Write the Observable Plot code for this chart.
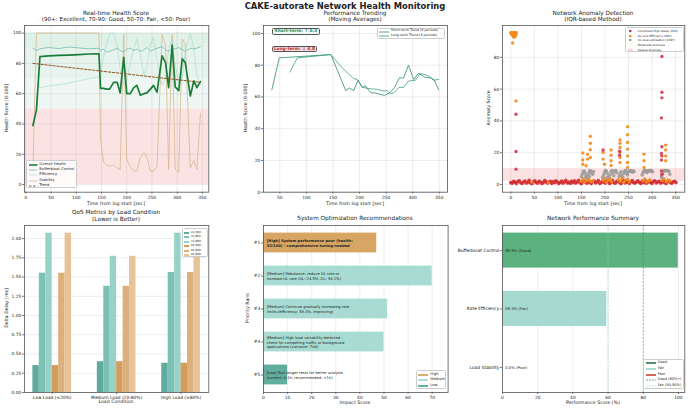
<!DOCTYPE html>
<html><head><meta charset="utf-8">
<script src="https://cdn.jsdelivr.net/npm/d3@7"></script>
<script src="https://cdn.jsdelivr.net/npm/@observablehq/plot@0.6"></script>
<style>
html,body{margin:0;padding:0;background:#fff;}
#root{position:relative;width:690px;height:409px;overflow:hidden;font-family:'DejaVu Sans',sans-serif;color:#222;}
.t{position:absolute;white-space:nowrap;transform:translate(-50%,-50%);line-height:1;}
.lg{position:absolute;background:rgba(255,255,255,0.82);border:0.5px solid #ccc;border-radius:1.5px;box-sizing:border-box;}
.lg .it{position:absolute;white-space:nowrap;line-height:1;transform:translateY(-50%);color:#222;}
.box{position:absolute;box-sizing:border-box;border:0.6px solid #555;border-radius:1.5px;font-weight:bold;white-space:nowrap;display:flex;align-items:center;justify-content:center;line-height:1;}
</style></head><body><div id="root"></div>
<script>
// ---------------- DATA ----------------
// Panel 1: real-time health score
const healthTime = [14,21,28,45,65,85,105,125,145,148,154,160,166,174,181,187,194,200,207,214,220,227,234,240,247,253,260,270,277,283,290,296,303,310,316,326,333,339,346];
const overallHealth = [39,49,84.5,85,85.3,85.5,85.8,86.2,86.3, 63.5,63.5,63,63,67.5,67.5,60.5,84,60,60, 64,65.5,59,60,60.5,63,65.5,61, 85,80.5,64,92,64.5,62,83,80.5, 58.5,68.5,64,68];
const bufferbloatScore = [90,88.5,89.7,90.5,89.8,90.8,90.2,89.6,90, 88.5,89.5,87.5,88,89,90,88.5,87.5,89.5,90, 88.5,89.5,88,89,90.5,88,89,90, 91,89,88,90,89.5,90.5,89,88, 90,89.5,90,91];
const efficiencyScore = [null,null,64,65,66,67,68.5,70,71, 74,84,93,99.5,100,92,76,66,69,80, 90,96,86,72,78,93,97,82, 66,71,89,96,79,67,70,88, 100,90,72,66];
const stabilityScore = [8,100,100,100,100,100,100,100,100, 30,15,13,12,13,11,10,99,17,12, 9,9,18,21,18,9,9,12, 99,92,10,99,10,8,96,93, 11,16,10,47];
const trendTime = [14,346];
const trendValue = [80,67.5];
const healthBands = [[0,50],[50,70],[70,90],[90,100]];

// Panel 2: moving averages
const shortTime = [35,49,146,174,181,189,197,205,211,221,230,247,256,266,275,283,292,302,311,322,333,340,349];
const shortValue = [64.5,84.6,86.7,64,65.6,64,70.5,66,67,62.7,62.4,61,62.4,66,72,72,80,71,75,72.5,72,71,64.5];
const longTime = [69,83,146,168,189,196,205,224,233,246,252,258,264,274,283,292,305,314,324,333,339,349];
const longValue = [75.7,84.6,86.7,78,71.5,71,66,65,64.8,63.7,64,62,62.4,66,66,70,70.5,74.7,74,72.6,70.5,71];

// Panel 3: anomalies
const bandStep = 3; // regular sampling of the delay band
const delayBand = [1.2,0.8,2.1,1.5,0.6,1.9,2.4,1.1,0.7,1.6, 2.2,0.9,1.4,2.6,1.0,0.5,1.8,2.3,1.3,0.8, 2.0,1.6,0.6,1.2,2.5,1.7,0.9,1.4,2.1,0.7, 1.9,1.1,2.4,1.5,0.6,1.3,2.2,0.8,1.7,2.6, 1.0,1.5,0.7,2.0,1.2,2.3,0.9,1.6,2.7,1.1, 0.5,1.8,2.1,1.4,0.8,2.4,1.3,0.6,1.9,2.2, 1.0,1.6,2.5,0.7,1.2,2.0,1.5,0.9,2.3,1.7, 0.6,1.4,2.6,1.1,0.8,1.9,2.2,1.3,0.5,1.7, 2.4,1.0,1.5,2.1,0.7,1.8,2.5,1.2,0.9,1.6, 2.3,1.4,0.6,2.0,1.1,2.7,0.8,1.5,2.2,1.3, 0.7,1.9,2.4,1.0,1.6,2.1,0.9,1.4,2.6,1.2, 0.6,1.8,2.3,1.1,0.8,1.7,2.0,1.3];
const delayHighT = [11,11,11,321,321,321,320,321,320,321,320,320,321,196,231,231];
const delayHighV = [44.2,20.8,9.7,80.5,58,54.5,41.9,23.8,19.6,18,15.4,8.6,6.5,21.7,21,18.5];
const effLowT = [0,2,4,6,8,10,12,1,3,5,7,9,11,4,6,8,10,6,8,4,11, 153,153,153,163,163,160,169,169,169,169,196,196,199,213,213,213,213,232,232,232,232,232,232,248,248,248,248,248,248,248,283,283,283,329,329,329,329, 45,80,150,153,157,162,166,170,174,196,199,203,207,211,214,228,232,236,240,244,248,252,281,284,288,292,296,322,326,330,334,338];
const effLowV = [95.5,95.5,95.5,95.5,95.5,95.5,95.5,94.6,94.6,94.6,94.6,94.6,94.6,93.7,93.7,93.7,93.7,92.8,92.8,89,52.6, 19.8,15.4,12.8,19,16,11.8,30.3,26,21.9,17,20.2,16,12.8,21.7,18.5,15,12,28,25.9,23.3,20.2,17,13.9,36.4,31.3,26.5,22.3,18,13.9,10.7,19.1,15,10.7,24.8,21.7,18,15, 1.5,1.2,2,3.5,1.5,2.5,3,1.8,2.2,2.5,3.8,1.5,2.8,3.5,1.8,3,2,3.8,1.5,2.8,3.2,1.8,2.5,3.5,1.6,2.2,3,2.5,3.6,1.8,2.8,2.2];
const ulOverT = [150,152,154,156,158,160,162,164,166,168,170,172,174,176,158,167, 195,197,199,201,203,205,207,209,211,213,215,217,219,221,223,225,204, 230,232,234,236,238,240,242,244,246,248,250,252,254,256,258,260,262, 279,281,283,285,287,289,291,293,295,297,299,301, 320,322,324,326,328,330,332,334,336,338,321];
const ulOverV = [5,6.5,8,8.5,7,5.5,4.5,6,7.5,8.8,8.5,7,6.5,8.2,4.2,5, 4.5,6,7.5,8.8,8.5,7,5,4.2,6,8,8.8,7.2,5.5,8.5,8.8,7.5,4.3, 5,6.5,8,5.5,4.5,7,8.5,8.8,7,6,8,8.7,8.8,8.5,7.8,8.5,8.2, 6,7.5,8.5,8.8,8.5,7.5,8.7,8.8,8.4,8.8,8.6,8, 5,6.5,8,8.8,8.8,8.5,8.8,8.7,8.2,6.5,4.2];
const severeBand = [2,10];

// Panel 4: QoS
const loadConditions = ["Low Load (≤20%)","Medium Load (20-80%)","High Load (≥80%)"];
const qosMetrics = ["UL 50th","UL 95th","UL 99th","DL 50th","DL 95th","DL 99th"];
const ul50 = [0.35,0.40,0.38], ul95 = [1.55,1.38,1.56], ul99 = [2.07,1.77,2.07];
const dl50 = [0.35,0.40,0.38], dl95 = [1.55,1.38,1.56], dl99 = [2.07,1.77,2.07];

// Panel 5: recommendations
const recRanks = [1,2,3,4,5];
const recImpact = [47,70,51.5,50,10];
const recPriority = ["High","Medium","Medium","Medium","Low"];
const recText = [
  "[High] System performance poor (health:\n53/100) - comprehensive tuning needed",
  "[Medium] Rebalance: reduce DL rate or\nincrease UL rate (UL: 24.5%, DL: 94.1%)",
  "[Medium] Continue gradually increasing rate\nlimits (efficiency: 59.3%, improving)",
  "[Medium] High load variability detected -\ncheck for competing traffic or background\napplications (variance: 706)",
  "[Low] Run longer tests for better analysis\n(current: 0.1h, recommended: >1h)"
];

// Panel 6: summary
const perfCategories = ["Bufferbloat Control","Rate Efficiency","Load Stability"];
const perfScores = [99.9,59.3,0.0];
const perfStatus = ["Good","Fair","Poor"];

// ---------------- STYLES ----------------
const C = {
  overall:"#1b7d3a", bb:"#5fb5a5", eff:"#a9dcd3", stab:"#d8b88d", trend:"#8b5a2b",
  bands:["#fbe3e3","#eef7f4","#e7f4ed","#e0f1e7"],
  short:"#2f8c69", long:"#52ad8e",
  red:"#d42a30", orange:"#f28c1c", gray:"#9a9a9a", severe:"#fbe1e1",
  qos:["#5fab9d","#7cc1b5","#98d1c8","#d29d5c","#ddb07b","#e7c398"],
  prio:{High:"#d8a664",Medium:"#a8dcd3",Low:"#61ae9f"},
  prioLeg:{High:"#d09a52",Medium:"#a2d8cf",Low:"#3f9b89"},
  status:{Good:"#5cb27e",Fair:"#a6dad1",Poor:"#c0392b"}
};

// ---------------- HELPERS ----------------
const root = document.getElementById('root');
const M = 45;
const baseStyle = "font-family:'DejaVu Sans',sans-serif;font-size:4.4px;overflow:visible;background:transparent;color:#222";
function place(spec, fx, fy, fw, fh) {
  const svg = Plot.plot({...spec, width: fw + 2*M, height: fh + 2*M,
    marginTop: M, marginBottom: M, marginLeft: M, marginRight: M, style: baseStyle});
  svg.style.position = 'absolute';
  svg.style.left = (fx - M) + 'px';
  svg.style.top = (fy - M) + 'px';
  root.appendChild(svg);
}
const axX = (ticks, tickFormat) => Plot.axisX({ticks, tickFormat, tickSize: 2, tickPadding: 1.2, strokeWidth: 0.6, label: null});
const axY = (ticks, tickFormat) => Plot.axisY({ticks, tickFormat, tickSize: 2, tickPadding: 1.2, strokeWidth: 0.6, label: null});
const gX = ticks => Plot.gridX({ticks, stroke:"#999", strokeOpacity:0.35, strokeWidth:0.5});
const gY = ticks => Plot.gridY({ticks, stroke:"#999", strokeOpacity:0.35, strokeWidth:0.5});
const frame = () => Plot.frame({stroke:"#555", strokeWidth:0.8});

function label(x, y, s, o = {}) {
  const d = document.createElement('div');
  d.className = 't';
  d.textContent = s;
  d.style.left = x + 'px'; d.style.top = y + 'px';
  d.style.fontSize = (o.size || 4.7) + 'px';
  if (o.weight) d.style.fontWeight = o.weight;
  if (o.color) d.style.color = o.color;
  if (o.rotate) d.style.transform = 'translate(-50%,-50%) rotate(-90deg)';
  root.appendChild(d);
}
const NS = 'http://www.w3.org/2000/svg';
function legend(box, items, o) {
  const [l, t, w, h] = box;
  const div = document.createElement('div'); div.className = 'lg';
  Object.assign(div.style, {left:l+'px', top:t+'px', width:w+'px', height:h+'px'});
  items.forEach((it, i) => {
    const cy = o.rows[i] - t;
    const sw = o.sx[1] - o.sx[0];
    const s = document.createElementNS(NS, 'svg');
    s.setAttribute('width', sw); s.setAttribute('height', 6);
    Object.assign(s.style, {position:'absolute', left:(o.sx[0]-l)+'px', top:(cy-3)+'px', overflow:'visible'});
    let el;
    if (it.kind === 'line') {
      el = document.createElementNS(NS, 'line');
      el.setAttribute('x1', 0); el.setAttribute('x2', sw); el.setAttribute('y1', 3); el.setAttribute('y2', 3);
      el.setAttribute('stroke', it.color); el.setAttribute('stroke-width', it.w || 0.8);
      if (it.dash) el.setAttribute('stroke-dasharray', it.dash);
    } else if (it.kind === 'patch') {
      const ph = it.h || 2.2;
      el = document.createElementNS(NS, 'rect');
      el.setAttribute('x', 0); el.setAttribute('y', 3 - ph/2); el.setAttribute('width', sw); el.setAttribute('height', ph);
      el.setAttribute('fill', it.color);
      if (it.stroke) { el.setAttribute('stroke', it.stroke); el.setAttribute('stroke-width', 0.3); }
    } else {
      el = document.createElementNS(NS, 'circle');
      el.setAttribute('cx', sw/2); el.setAttribute('cy', 3); el.setAttribute('r', it.r || 1.2);
      el.setAttribute('fill', it.color);
    }
    s.appendChild(el); div.appendChild(s);
    const tx = document.createElement('div'); tx.className = 'it'; tx.textContent = it.text;
    tx.style.left = (o.tx - l) + 'px'; tx.style.top = cy + 'px'; tx.style.fontSize = o.fs + 'px';
    div.appendChild(tx);
  });
  root.appendChild(div);
}

// ---------------- PANEL 1 ----------------
const h1 = healthTime.map((t, i) => ({t, ov: overallHealth[i], bb: bufferbloatScore[i], eff: efficiencyScore[i], st: stabilityScore[i]}));
const trend1 = trendTime.map((t, i) => ({t, v: trendValue[i]}));
const bands1 = healthBands.map(([lo, hi], i) => ({lo, hi, c: C.bands[i]}));
const t350 = [0,50,100,150,200,250,300,350];
place({
  x:{domain:[-2.6,362.6]}, y:{domain:[-5,105]}, color:{type:"identity"},
  marks:[
    Plot.rect(bands1, {y1:"lo", y2:"hi", fill:"c"}),
    gX(t350), gY([0,20,40,60,80,100]),
    Plot.line(h1, {x:"t", y:"st", stroke:C.stab, strokeWidth:0.8}),
    Plot.line(h1, {x:"t", y:"eff", stroke:C.eff, strokeWidth:0.7}),
    Plot.line(h1, {x:"t", y:"bb", stroke:C.bb, strokeWidth:0.7}),
    Plot.line(h1, {x:"t", y:"ov", stroke:C.overall, strokeWidth:1.7}),
    Plot.line(trend1, {x:"t", y:"v", stroke:C.trend, strokeWidth:1, strokeDasharray:"2.5,1.5"}),
    axX(t350), axY([0,20,40,60,80,100]), frame()
  ]
}, 24, 25, 184.3, 166.7);

// ---------------- PANEL 2 ----------------
const s2 = shortTime.map((t, i) => ({t, v: shortValue[i]}));
const l2 = longTime.map((t, i) => ({t, v: longValue[i]}));
place({
  x:{domain:[19.3,365.5]}, y:{domain:[0,105]},
  marks:[
    gX([50,100,150,200,250,300,350]), gY([0,20,40,60,80,100]),
    Plot.line(l2, {x:"t", y:"v", stroke:C.long, strokeWidth:1, strokeOpacity:0.9}),
    Plot.line(s2, {x:"t", y:"v", stroke:C.short, strokeWidth:0.8}),
    axX([50,100,150,200,250,300,350]), axY([0,20,40,60,80,100]), frame()
  ]
}, 263.3, 25, 184, 166.7);

// ---------------- PANEL 3 ----------------
const band3 = delayBand.map((v, i) => ({t: i * bandStep, v}));
const high3 = delayHighT.map((t, i) => ({t, v: delayHighV[i]}));
const eff3 = effLowT.map((t, i) => ({t, v: effLowV[i]}));
const ul3 = ulOverT.map((t, i) => ({t, v: ulOverV[i]}));
place({
  x:{domain:[-17.6,369.6]}, y:{domain:[-4.8,100]},
  marks:[
    Plot.rect([{lo: severeBand[0], hi: severeBand[1]}], {y1:"lo", y2:"hi", fill:C.severe}),
    gX(t350), gY([0,20,40,60,80]),
    Plot.dot(band3, {x:"t", y:"v", r:1.8, fill:C.red, fillOpacity:0.9}),
    Plot.dot(ul3, {x:"t", y:"v", r:1.8, fill:C.gray, fillOpacity:0.85}),
    Plot.dot(eff3, {x:"t", y:"v", r:1.7, fill:C.orange, fillOpacity:0.9}),
    Plot.dot(high3, {x:"t", y:"v", r:1.7, fill:"#c93044", fillOpacity:0.85}),
    axX(t350), axY([0,20,40,60,80]), frame()
  ]
}, 501.7, 25, 182.3, 166.7);

// ---------------- PANEL 4 ----------------
const qosSeries = [ul50, ul95, ul99, dl50, dl95, dl99];
const qos = [];
loadConditions.forEach((_, g) => qosSeries.forEach((arr, j) => {
  qos.push({x1: g - 0.3 + j * 0.1, x2: g - 0.2 + j * 0.1, v: arr[g], c: C.qos[j]});
}));
place({
  x:{domain:[-0.43,2.43]}, y:{domain:[0,2.17]}, color:{type:"identity"},
  marks:[
    gY([0,0.25,0.5,0.75,1,1.25,1.5,1.75,2]),
    Plot.rect(qos, {x1:"x1", x2:"x2", y1:0, y2:"v", fill:"c"}),
    axX([0,1,2], i => loadConditions[i]),
    axY([0,0.25,0.5,0.75,1,1.25,1.5,1.75,2], d3.format(".2f")), frame()
  ]
}, 24, 224.7, 184.3, 167);

// ---------------- PANEL 5 ----------------
const recs = recRanks.map((rank, i) => ({rank, impact: recImpact[i], prio: recPriority[i], text: recText[i], c: C.prio[recPriority[i]]}));
place({
  x:{domain:[0,76.6]}, y:{domain:[0.47,5.53], reverse:true}, color:{type:"identity"},
  marks:[
    gX([0,10,20,30,40,50,60,70]),
    Plot.rect(recs, {x1:0, x2:"impact", y1: d => d.rank - 0.3, y2: d => d.rank + 0.3, fill:"c"}),
    Plot.text(recs.filter(d => d.prio === "High"), {x:1.3, y:"rank", text:"text", textAnchor:"start", fontSize:3.7, lineHeight:1.3, fontWeight:"bold", fill:"#222"}),
    Plot.text(recs.filter(d => d.prio !== "High"), {x:1.3, y:"rank", text:"text", textAnchor:"start", fontSize:3.7, lineHeight:1.3, fill:"#222"}),
    axX([0,10,20,30,40,50,60,70]), axY([1,2,3,4,5], d => "#" + d), frame()
  ]
}, 262.7, 224.7, 184.6, 167);

// ---------------- PANEL 6 ----------------
const perf = perfCategories.map((name, i) => ({i, name, score: perfScores[i], status: perfStatus[i], c: C.status[perfStatus[i]]}));
place({
  x:{domain:[0,103.6]}, y:{domain:[-0.43,2.43], reverse:true}, color:{type:"identity"},
  marks:[
    gX([0,20,40,60,80,100]),
    Plot.rect(perf, {x1:0, x2:"score", y1: d => d.i - 0.3, y2: d => d.i + 0.3, fill:"c"}),
    Plot.ruleX([80], {stroke:"#3d7a5a", strokeWidth:0.6, strokeDasharray:"2,1.5", strokeOpacity:0.8}),
    Plot.ruleX([60], {stroke:"#8fd0c5", strokeWidth:0.6, strokeDasharray:"2,1.5"}),
    Plot.text(perf, {x:1.5, y:"i", text: d => `${d.score.toFixed(1)}% (${d.status})`, textAnchor:"start", fontSize:3.8, fill:"#222"}),
    axX([0,20,40,60,80,100]), axY([0,1,2], i => perfCategories[i]), frame()
  ]
}, 501.7, 224.7, 182.3, 167);

// ---------------- TEXT ----------------
label(345, 6.3, "CAKE-autorate Network Health Monitoring", {size:8.4, weight:"bold"});
label(116, 14, "Real-time Health Score", {size:5.75});
label(116, 20.3, "(90+: Excellent, 70-90: Good, 50-70: Fair, <50: Poor)", {size:5.6});
label(355, 14, "Performance Trending", {size:5.75});
label(355, 20.3, "(Moving Averages)", {size:5.75});
label(593, 14, "Network Anomaly Detection", {size:5.75});
label(593, 20.3, "(IQR-based Method)", {size:5.75});
label(116, 213.3, "QoS Metrics by Load Condition", {size:5.75});
label(116, 219.8, "(Lower is Better)", {size:5.75});
label(355, 219.3, "System Optimization Recommendations", {size:5.75});
label(593, 219.3, "Network Performance Summary", {size:5.75});
label(116, 203.5, "Time from log start [sec]");
label(355, 203.5, "Time from log start [sec]");
label(593, 203.5, "Time from log start [sec]");
label(116, 401.7, "Load Condition");
label(355, 402.5, "Impact Score");
label(593, 402.5, "Performance Score (%)");
label(6.5, 108, "Health Score [0-100]", {rotate:true});
label(245.7, 108, "Health Score [0-100]", {rotate:true});
label(488.5, 108, "Anomaly Score", {rotate:true});
label(6.5, 308, "Delta Delay [ms]", {rotate:true});
label(248.3, 308, "Priority Rank", {rotate:true});

// Panel 2 annotation boxes
function badge(l, t, w, h, s, color, bg) {
  const d = document.createElement('div'); d.className = 'box'; d.textContent = s;
  Object.assign(d.style, {left:l+'px', top:t+'px', width:w+'px', height:h+'px', color, background:bg, fontSize:'4.3px'});
  root.appendChild(d);
}
badge(271.7, 28.3, 48.3, 6.7, "Short-term: ↑ 0.3", "#2e8b57", "#eef7f1");
badge(271.7, 45.7, 45.3, 6.7, "Long-term: ↓ 4.8", "#b52a2a", "#f7dcdc");

// ---------------- LEGENDS ----------------
legend([26,160,50.5,28], [
  {kind:"line", color:C.overall, w:1.6, text:"Overall Health"},
  {kind:"line", color:C.bb, w:0.7, text:"Bufferbloat Control"},
  {kind:"line", color:C.eff, w:0.7, text:"Efficiency"},
  {kind:"line", color:C.stab, w:0.8, text:"Stability"},
  {kind:"line", color:C.trend, w:1, dash:"2.5,1.5", text:"Trend"}
], {rows:[163.5,168.8,174.1,179.5,184.8], sx:[28.3,36.7], tx:38.3, fs:3.7});
legend([376.7,27.7,68.3,11.3], [
  {kind:"line", color:C.short, w:0.8, text:"Short-term Trend (4 periods)"},
  {kind:"line", color:C.long, w:1, text:"Long-term Trend (9 periods)"}
], {rows:[30.5,35.5], sx:[378.3,388.3], tx:390, fs:3.3});
legend([625.3,26.7,58.4,25], [
  {kind:"dot", color:"#c93044", r:1.3, text:"Combined High Delay (652)"},
  {kind:"dot", color:C.orange, r:1.3, text:"DL Low Efficiency (697)"},
  {kind:"dot", color:C.gray, r:1.3, text:"UL Over-utilization (1397)"},
  {kind:"patch", color:"#fffbe8", h:2.5, text:"Moderate Anomaly"},
  {kind:"patch", color:"#f9d3d3", h:2.5, text:"Severe Anomaly"}
], {rows:[30,34.6,39.3,44,48.6], sx:[627.5,632], tx:636.8, fs:2.9});
legend([181.7,228.3,26.6,29], qosMetrics.map((m, j) => ({kind:"patch", color:C.qos[j], h:2, text:m})),
  {rows:[231.7,236.2,240.7,245.4,250,254.5], sx:[183.3,188.3], tx:190, fs:2.6});
legend([415.7,370,30.3,19], ["High","Medium","Low"].map(p => ({kind:"line", color:C.prioLeg[p], w:1.6, text:p})),
  {rows:[373.5,379.2,384.8], sx:[417.3,427.3], tx:429.3, fs:3.6});
legend([643.3,359.3,40.4,29.7], [
  {kind:"line", color:"#1e6b40", w:1.5, text:"Good"},
  {kind:"line", color:"#8fd0c5", w:1.5, text:"Fair"},
  {kind:"line", color:C.status.Poor, w:1.5, text:"Poor"},
  {kind:"line", color:"#1e6b40", w:0.6, dash:"2,1", text:"Good (80%+)"},
  {kind:"line", color:"#8fd0c5", w:0.6, dash:"2,1", text:"Fair (60-80%)"}
], {rows:[362.4,368,373.7,379.3,385], sx:[645,655], tx:656.7, fs:3.5});
</script></body></html>
